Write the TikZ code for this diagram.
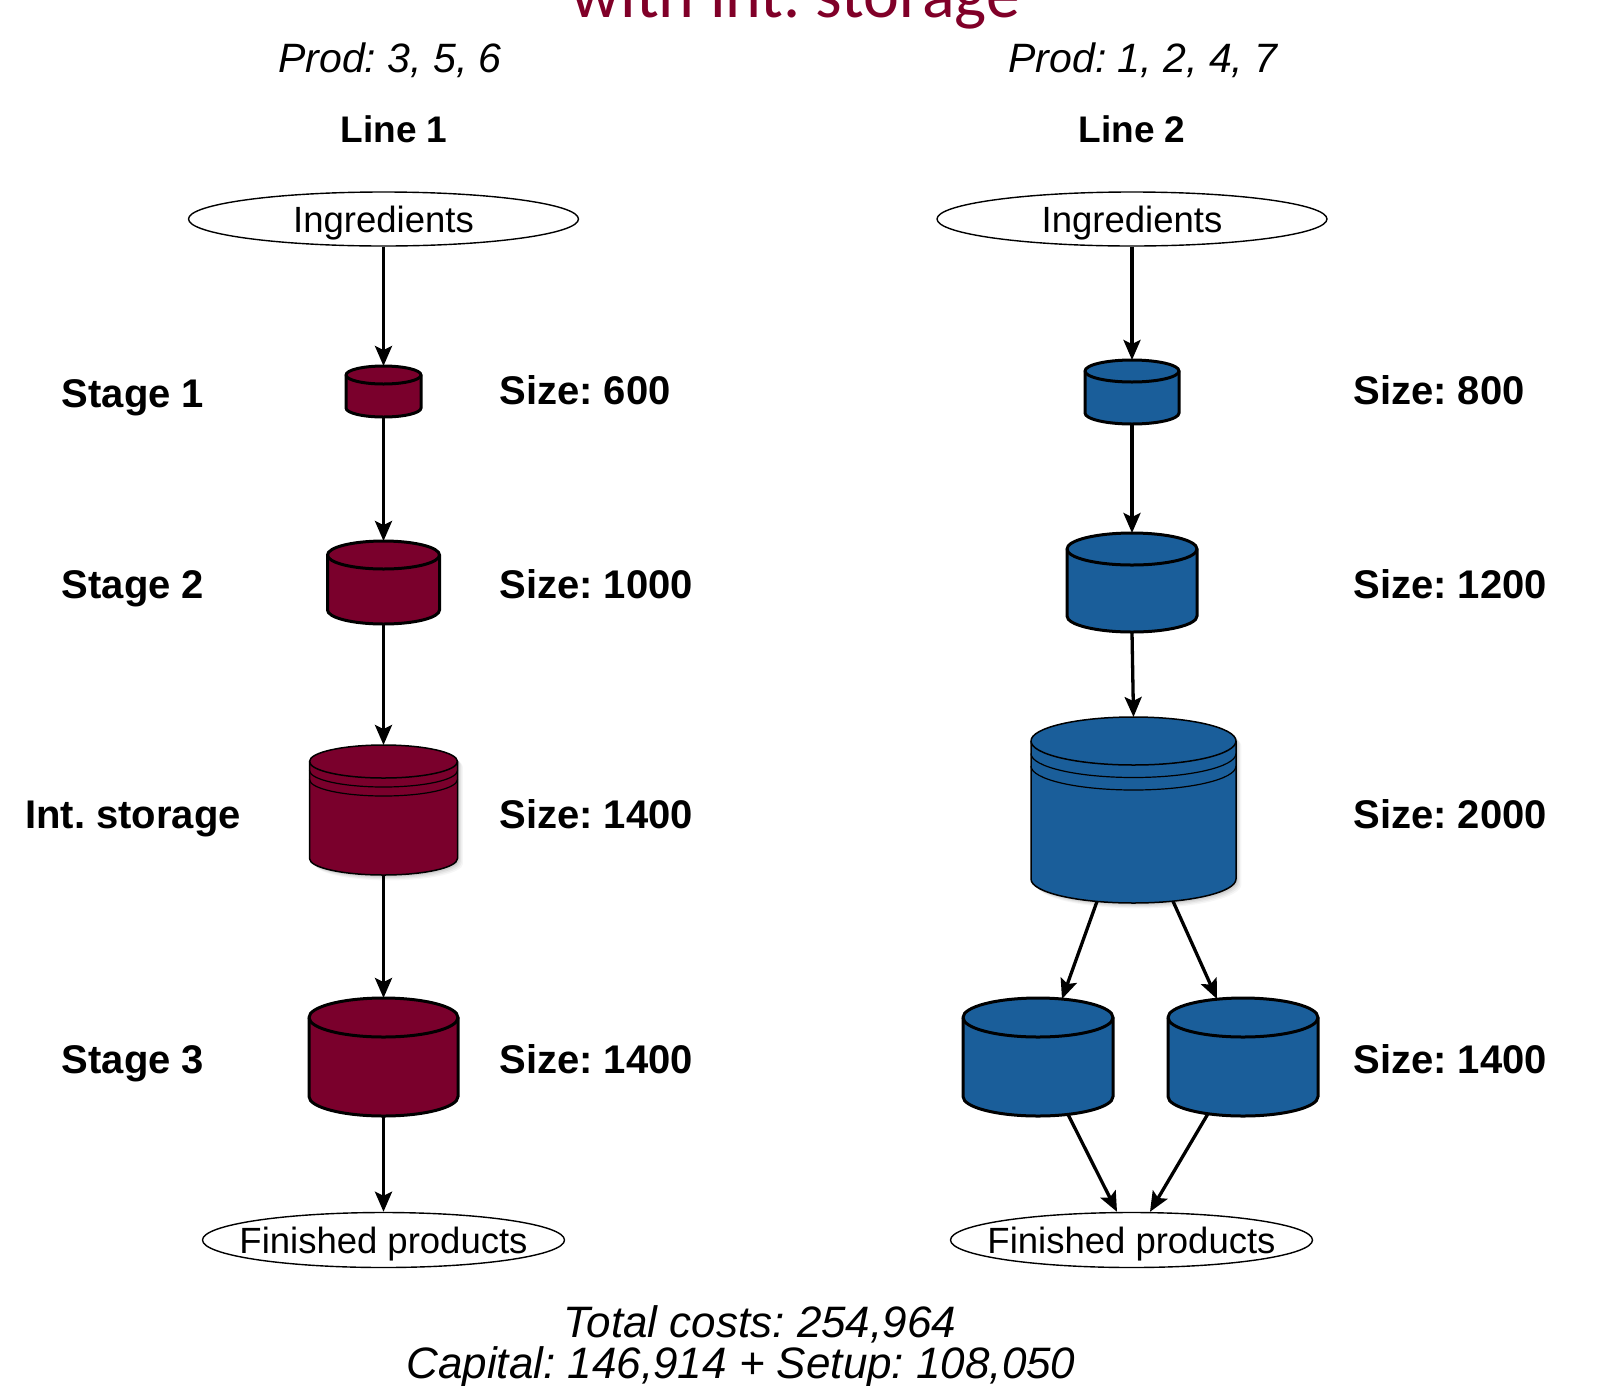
\documentclass[tikz,border=0pt]{standalone}
\usepackage{fontspec}
\setmainfont{Liberation Sans}
\newfontfamily\titlefont{Carlito}
\usetikzlibrary{shapes.geometric,arrows.meta,calc}
\frenchspacing

\definecolor{wine}{RGB}{122,0,44}
\definecolor{steel}{RGB}{26,94,154}
\definecolor{titlered}{RGB}{128,0,40}

\tikzset{
  flow/.style={line width=3.3pt,-{Stealth[length=20pt,width=17pt,inset=4pt]}},
  terminal/.style={ellipse,draw,line width=1.4pt,inner sep=0pt},
  termtext/.style={font=\fontsize{36.5}{40}\selectfont,text height=26pt,text depth=0pt,inner sep=0pt},
  stagelbl/.style={anchor=base,font=\bfseries\fontsize{40}{44}\selectfont},
  sizelbl/.style={anchor=base west,font=\bfseries\fontsize{40}{44}\selectfont},
  prodlbl/.style={anchor=base,font=\itshape\fontsize{41}{44}\selectfont},
  linelbl/.style={anchor=base,font=\bfseries\fontsize{37}{40}\selectfont},
  costlbl/.style={anchor=base,font=\itshape\fontsize{44}{44}\selectfont},
}

% outline of a drum: centre x, top y, bottom y, width, rim half-height (y measured downwards)
\newcommand\drumpath[5]{%
  ({#1-#4/2},{-(#2+#5)}) -- ({#1-#4/2},{-(#3-#5)})
  arc[start angle=180,end angle=360,x radius={#4/2},y radius=#5]
  -- ({#1+#4/2},{-(#2+#5)})
  arc[start angle=0,end angle=180,x radius={#4/2},y radius=#5] -- cycle}

% filled drum with its rim, plus a named box node around it
% #1 name, #2 centre x, #3 top y, #4 bottom y, #5 width, #6 rim half-height, #7 fill, #8 outline width
\newcommand\drum[8]{%
  \path[fill=#7,draw=black,line width=#8] \drumpath{#2}{#3}{#4}{#5}{#6};
  \draw[line width=#8] ({#2-#5/2},{-(#3+#6)})
    arc[start angle=180,end angle=360,x radius={#5/2},y radius=#6];
  \node[inner sep=0pt,outer sep=0pt,minimum width=#5pt,minimum height={(#4-#3)*1pt}]
    (#1) at ({#2},{-(#3+#4)/2}) {};
}

% extra rim line below the top of a drum: centre x, top y, width, rim half-height, offset
\newcommand\drumring[5]{%
  \draw[line width=1.2pt] ({#1-#3/2},{-(#2+#4+#5)})
    arc[start angle=180,end angle=360,x radius={#3/2},y radius=#4];
}

% soft shadow to the lower right of a drum
\newcommand\drumshadow[5]{%
  \foreach \k/\o in {9/0.035,7/0.045,5/0.055,3/0.065}{%
    \begin{scope}[shift={(\k*0.6,-\k*0.6)}]
      \fill[black,opacity=\o] \drumpath{#1}{#2}{#3}{#4}{#5};
    \end{scope}}%
}

\begin{document}
\begin{tikzpicture}[x=1pt,y=1pt]
\useasboundingbox (0,0) rectangle (1618,-1385);

% heading
\node[anchor=base,text=titlered,font=\titlefont\fontsize{68}{70}\selectfont]
  (title) at (796,-17) {with int. storage};

% column headings
\node[prodlbl] (prod1) at (390,-72) {Prod: 3, 5, 6};
\node[prodlbl] (prod2) at (1143,-72) {Prod: 1, 2, 4, 7};
\node[linelbl] (line1) at (394,-142) {Line 1};
\node[linelbl] (line2) at (1132,-142) {Line 2};

% row labels
\node[stagelbl] (lab1) at (133,-407) {Stage 1};
\node[stagelbl] (lab2) at (133,-598) {Stage 2};
\node[stagelbl] (lab3) at (133,-828) {Int. storage};
\node[stagelbl] (lab4) at (133,-1073) {Stage 3};

% sizes, line 1
\node[sizelbl] (sa1) at (496,-404) {Size: 600};
\node[sizelbl] (sa2) at (496,-598) {Size: 1000};
\node[sizelbl] (sa3) at (496,-828) {Size: 1400};
\node[sizelbl] (sa4) at (496,-1073) {Size: 1400};
% sizes, line 2
\node[sizelbl] (sb1) at (1350,-404) {Size: 800};
\node[sizelbl] (sb2) at (1350,-598) {Size: 1200};
\node[sizelbl] (sb3) at (1350,-828) {Size: 2000};
\node[sizelbl] (sb4) at (1350,-1073) {Size: 1400};

% inputs and outputs
\node[terminal,minimum width=390pt,minimum height=54pt] (in1) at (383.5,-219) {};
\node[termtext] (in1t) at (in1.center) {Ingredients};
\node[terminal,minimum width=390pt,minimum height=54pt] (in2) at (1132,-219) {};
\node[termtext] (in2t) at (in2.center) {Ingredients};
\node[terminal,minimum width=362pt,minimum height=55pt] (fp1) at (383.5,-1240) {};
\node[termtext] (fp1t) at (fp1.center) {Finished products};
\node[terminal,minimum width=362pt,minimum height=55pt] (fp2) at (1131.5,-1240) {};
\node[termtext] (fp2t) at (fp2.center) {Finished products};

% line 1 vessels
\drum{a1}{383.5}{366}{417}{75}{9}{wine}{3pt}
\drum{a2}{383.5}{541}{624}{112}{14}{wine}{3pt}
\drumshadow{383.5}{745}{875}{148}{16.5}
\drum{a3}{383.5}{745}{875}{148}{16.5}{wine}{1.5pt}
\drumring{383.5}{745}{148}{16.5}{9}
\drumring{383.5}{745}{148}{16.5}{18}
\drum{a4}{383.5}{998}{1116}{149}{19.5}{wine}{3pt}

% line 2 vessels
\drum{b1}{1132}{360}{424}{94}{11}{steel}{3pt}
\drum{b2}{1132}{533}{632}{130}{16}{steel}{3pt}
\drumshadow{1133.5}{717}{903}{205}{24}
\drum{b3}{1133.5}{717}{903}{205}{24}{steel}{1.5pt}
\drumring{1133.5}{717}{205}{24}{12.5}
\drumring{1133.5}{717}{205}{24}{25}
\drum{b4}{1038}{998}{1116}{150}{19.5}{steel}{3pt}
\drum{b5}{1243}{998}{1116}{150}{19.5}{steel}{3pt}

% flow, line 1
\draw[flow] (in1.south) -- (a1.north);
\draw[flow] (a1.south) -- (a2.north);
\draw[flow] (a2.south) -- (a3.north);
\draw[flow] (a3.south) -- (a4.north);
\draw[flow] (a4.south) -- (fp1.north);

% flow, line 2
\draw[flow] (in2.south) -- (b1.north);
\draw[flow] (b1.south) -- (b2.north);
\draw[flow] (b2.south) -- (b3.north);
\draw[flow] ($(b3.south)+(-36.5,1.6)$) -- ($(b4.north)+(24,-1)$);
\draw[flow] ($(b3.south)+(39.5,1.8)$) -- ($(b5.north)+(-26,-1)$);
\draw[flow] ($(b4.south)+(30,1.6)$) -- ($(fp2.north)+(-14.5,0)$);
\draw[flow] ($(b5.south)+(-35,2.3)$) -- ($(fp2.north)+(18.5,0)$);

% cost summary
\node[costlbl] (total) at (760,-1337) {Total costs: 254,964};
\node[costlbl] (capital) at (741,-1378) {Capital: 146,914 + Setup: 108,050};
\end{tikzpicture}
\end{document}
